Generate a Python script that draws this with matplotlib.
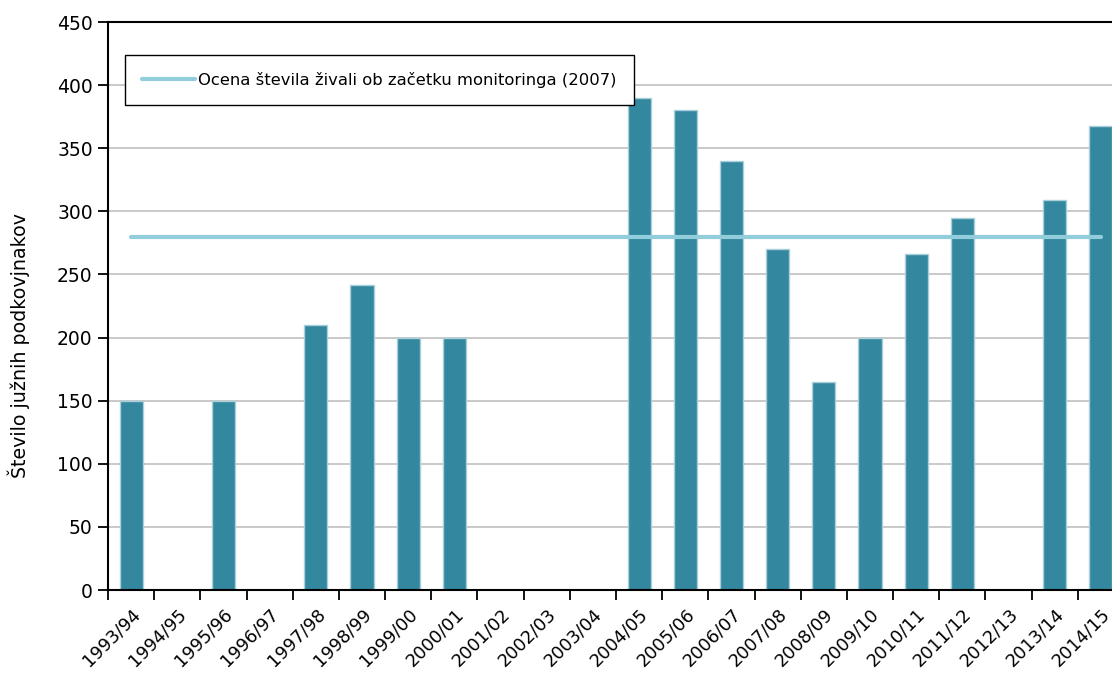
import numpy as np
import matplotlib
matplotlib.use('Agg')
import matplotlib.pyplot as plt

# Sezone in število živali
seasons = ['1993/94', '1994/95', '1995/96', '1996/97', '1997/98', '1998/99',
           '1999/00', '2000/01', '2001/02', '2002/03', '2003/04', '2004/05',
           '2005/06', '2006/07', '2007/08', '2008/09', '2009/10', '2010/11',
           '2011/12', '2012/13', '2013/14', '2014/15']
counts = [150, 0, 150, 0, 210, 242, 200, 200, 0, 0, 0, 390,
          380, 340, 270, 165, 200, 266, 295, 0, 309, 368]
estimate_2007 = 280
legend_label = 'Ocena števila živali ob začetku monitoringa (2007)'
y_label = 'Število južnih podkovjnakov'

plt.rcParams['font.family'] = ['DejaVu Sans']

fig = plt.figure(figsize=(11.12, 6.75), dpi=100)
ax = fig.add_axes([108 / 1112, 85 / 675, 1016 / 1112, 568 / 675])

x = np.arange(len(seasons))
ax.bar(x, counts, width=0.5, color='#33879e', edgecolor='#a9cfda',
       linewidth=1, zorder=2)
ax.plot([x[0], x[-1]], [estimate_2007, estimate_2007], color='#92cddc',
        linewidth=3, solid_capstyle='round', label=legend_label, zorder=3)

ax.set_xlim(-0.5, len(seasons) - 0.5)
ax.set_ylim(0, 450)
ax.set_yticks(np.arange(0, 451, 50))
ax.yaxis.grid(True, color='#c0c0c0', linewidth=1.2, zorder=0)
ax.set_axisbelow(True)

# kljukice med kategorijami, oznake na sredini
ax.set_xticks(np.arange(-0.5, len(seasons), 1))
ax.set_xticklabels([])
ax.tick_params(axis='x', which='major', length=7, width=1.3, direction='out')
ax.set_xticks(x, minor=True)
ax.set_xticklabels(seasons, minor=True, rotation=45, ha='right',
                   rotation_mode='anchor', fontsize=12.8)
ax.tick_params(axis='x', which='minor', length=0, pad=11)
ax.tick_params(axis='y', length=7, width=1.3, labelsize=13.5, pad=4)

for side in ['left', 'bottom', 'top']:
    ax.spines[side].set_linewidth(1.5)
    ax.spines[side].set_color('black')
ax.spines['right'].set_visible(False)

ax.set_ylabel(y_label, fontsize=13.7)
ax.yaxis.set_label_coords(-0.077, 0.43)

ax.legend(loc='upper left', bbox_to_anchor=(0.0167, 0.942), borderaxespad=0,
          fancybox=False, edgecolor='black', framealpha=1, fontsize=11.8,
          handlelength=3.2, handletextpad=0.2, borderpad=1.05)

fig.savefig('out.png', dpi=100)
